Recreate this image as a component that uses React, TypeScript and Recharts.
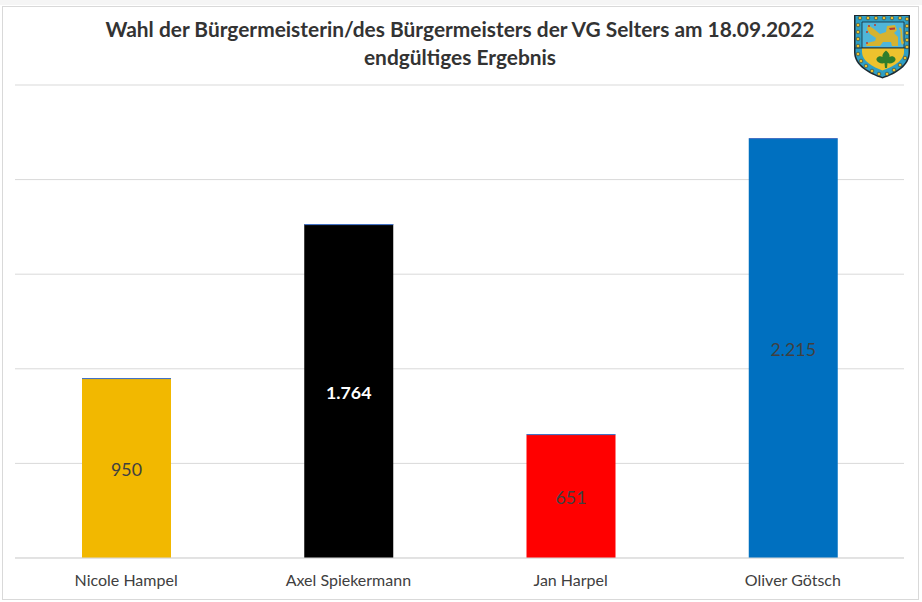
// Bar chart of the mayoral election result, with the coat of arms drawn as a small inline svg.
import { Bar, BarChart, CartesianGrid, Cell, LabelList, XAxis, YAxis } from "recharts";

const candidates = ["Nicole Hampel", "Axel Spiekermann", "Jan Harpel", "Oliver Götsch"];
const votes = [950, 1764, 651, 2215];
const edge = [5, 5, 5, 5]; // thin blue second series sitting on top of each bar
const barColors = ["#f2b800", "#000000", "#ff0000", "#0070c0"];
const labelColors = ["#404040", "#ffffff", "#404040", "#404040"];
const labelWeights = [400, 700, 400, 400];
const yTicks = [0, 500, 1000, 1500, 2000, 2500];
const titleLines = [
  "Wahl der Bürgermeisterin/des Bürgermeisters der VG Selters am 18.09.2022",
  "endgültiges Ergebnis",
];

const FONT = "Lato, 'Open Sans', sans-serif";
const GRID = "#d9d9d9";
const TEXT = "#404040";

const data = candidates.map((name, i) => ({ name, votes: votes[i], edge: edge[i] }));

const fmt = (n: number) => n.toLocaleString("de-DE");

function VoteLabel(props: any) {
  const { x, y, width, height, value, index } = props;
  return (
    <text
      x={x + width / 2}
      y={y + height / 2 + 1}
      textAnchor="middle"
      dominantBaseline="central"
      fontFamily={FONT}
      fontSize={17.8}
      fontWeight={labelWeights[index]}
      fill={labelColors[index]}
    >
      {fmt(value)}
    </text>
  );
}

// the edge series is about one pixel tall, so snap it to the pixel grid or it blurs to grey
function EdgeBar(props: any) {
  const { x, y, width, height } = props;
  return <rect x={x} y={Math.floor(y + height)} width={width} height={1.1} fill="#4472c4" />;
}

const ringDots = [
  [7, 4], [15, 4], [23, 4], [31, 4], [39, 4], [47, 4], [54, 5],
  [5, 11], [5, 18], [5, 25], [5, 32], [54, 12], [54, 19], [54, 26], [54, 33],
  [5, 40], [8, 47], [13, 52], [19, 57], [26, 60], [34, 60], [41, 56], [47, 51], [52, 44],
];

function Crest() {
  return (
    <svg
      width={58}
      height={65}
      viewBox="0 0 58 65"
      style={{ position: "absolute", left: 853, top: 14 }}
    >
      <path d="M1 1H57V38C57 52 43 60 29.5 64.5C16 60 1 52 1 38Z" fill="#1b2a33" />
      <path d="M2.5 2H55.5V38C55.5 51 42 58.5 29.5 63C17 58.5 2.5 51 2.5 38Z" fill="#2f9fc4" />
      <path d="M9 8H51V34H9Z" fill="#4fb6da" stroke="#1b2a33" strokeWidth={0.8} />
      <path d="M9 34H51V38C51 47 39 53 29.5 56.5C20 53 9 47 9 38Z" fill="#eec22e" />
      <path d="M2 34H56" stroke="#1b2a33" strokeWidth={0.9} />
      {/* lion */}
      <path
        d="M15 11L21 15L27 20L33 18L34 12L42 11L44 16L41 19L45 23L45 32L39 32L38 28L30 28L27 32L13 32L14 29L22 27L23 24L17 20L14 15Z"
        fill="#d6b330"
      />
      <path d="M47 13C51 16 48 22 51 29L49 31C46 24 49 17 46 15Z" fill="#d6b330" />
      <path d="M36 14L42 13.5L42 15.5L37 16Z" fill="#b33a3a" />
      <circle cx={16} cy={12} r={1} fill="#c0392b" />
      <circle cx={22} cy={11} r={1} fill="#c0392b" />
      <circle cx={14} cy={18} r={1} fill="#c0392b" />
      <circle cx={14} cy={29} r={1} fill="#c0392b" />
      {/* leaf */}
      <path
        d="M33 36.5C36 39 37 41 36.5 43C39 41 43 43 42.5 46C41.5 49 37 50 34.5 49L34 54H32L31.5 49C29 50 24.5 49 23.5 46C23 43 27 41 29.5 43C29 41 30 39 33 36.5Z"
        fill="#2f7d2c"
      />
      {ringDots.map(([cx, cy]) => (
        <circle key={`${cx}-${cy}`} cx={cx} cy={cy} r={1.8} fill="#eec22e" stroke="#1b2a33" strokeWidth={0.5} />
      ))}
    </svg>
  );
}

export default function App() {
  return (
    <div style={{ position: "absolute", left: 0, top: 0, width: 922, height: 602, background: "#fff", overflow: "hidden" }}>
      <div style={{ position: "absolute", left: 0, top: 0, width: 922, height: 5, background: "#f5f5f5" }} />
      <div
        style={{
          position: "absolute",
          left: 2,
          top: 6,
          width: 915,
          height: 592,
          border: `1.5px solid ${GRID}`,
          boxSizing: "content-box",
        }}
      />
      <BarChart
        width={922}
        height={602}
        data={data}
        margin={{ top: 85, right: 18, bottom: 0, left: 15 }}
        style={{ position: "absolute", left: 0, top: 0 }}
      >
        <CartesianGrid stroke={GRID} strokeWidth={1} vertical={false} />
        <XAxis
          dataKey="name"
          height={44}
          tickLine={false}
          tickMargin={11}
          interval={0}
          axisLine={{ stroke: GRID }}
          tick={{ fill: TEXT, fontSize: 16, fontFamily: FONT }}
        />
        <YAxis hide width={0} domain={[0, 2500]} ticks={yTicks} />
        <Bar dataKey="votes" stackId="a" barSize={89} isAnimationActive={false}>
          {candidates.map((c, i) => (
            <Cell key={c} fill={barColors[i]} />
          ))}
          <LabelList dataKey="votes" content={VoteLabel} />
        </Bar>
        <Bar dataKey="edge" stackId="a" barSize={89} shape={EdgeBar} isAnimationActive={false} />
      </BarChart>
      <div
        style={{
          position: "absolute",
          left: 0,
          top: 15,
          width: 920,
          textAlign: "center",
          fontFamily: FONT,
          fontWeight: 700,
          fontSize: 20.9,
          lineHeight: "28px",
          color: "#333333",
        }}
      >
        {titleLines.map((t) => (
          <div key={t}>{t}</div>
        ))}
      </div>
      <Crest />
    </div>
  );
}
